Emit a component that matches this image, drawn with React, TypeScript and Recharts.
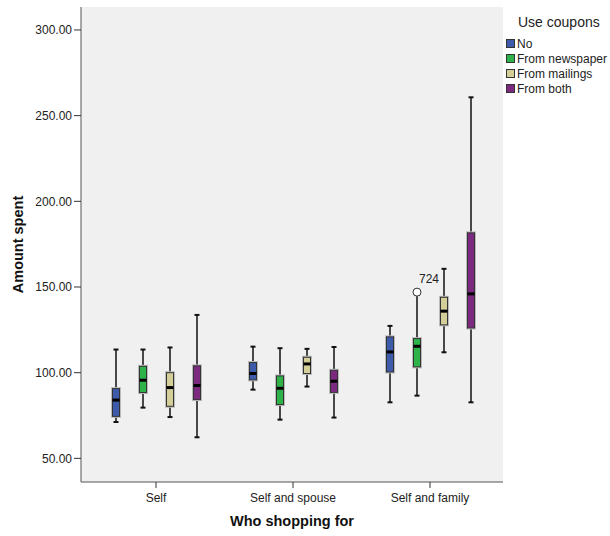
import { BarChart, Bar, XAxis, YAxis, CartesianGrid } from 'recharts'

if (typeof document !== 'undefined') document.body.style.margin = '0'

const categories = ['Self', 'Self and spouse', 'Self and family']
const couponGroups = ['No', 'From newspaper', 'From mailings', 'From both']
const groupColors = ['#3E5AAA', '#2EB34B', '#D4CF98', '#7C2A7F']

// [lower whisker, Q1, median, Q3, upper whisker] for each shopping category
const noCoupons = [
  [71.2, 74.5, 84.0, 90.7, 113.5],
  [90.1, 95.8, 99.5, 105.9, 115.2],
  [82.7, 100.4, 112.1, 120.9, 127.3],
]
const newspaper = [
  [79.6, 88.4, 95.6, 103.7, 113.5],
  [72.6, 81.4, 90.9, 98.1, 114.3],
  [86.6, 103.4, 115.4, 119.9, 145.5],
]
const mailings = [
  [74.1, 80.4, 91.3, 100.0, 114.7],
  [91.9, 99.5, 105.1, 109.0, 113.9],
  [111.9, 127.9, 135.9, 144.0, 160.6],
]
const both = [
  [62.3, 84.3, 92.5, 104.0, 133.7],
  [73.8, 88.5, 95.0, 101.4, 115.0],
  [82.7, 126.1, 146.0, 181.6, 260.7],
]
const outliers = [{ group: 1, category: 2, value: 147, label: '724' }]

const yTicks = [50, 100, 150, 200, 250, 300]

const allStats = [noCoupons, newspaper, mailings, both]

const data = categories.map((name, i) => ({
  name,
  stats: allStats.map((s) => s[i]),
  outliers: allStats.map((_, g) => outliers.filter((o) => o.group === g && o.category === i)),
}))

const font = 'Liberation Sans, Arial, sans-serif'

function BoxShape(props: any) {
  const { x, y, width, height, payload, group } = props
  const [lo, q1, med, q3, hi] = payload.stats[group]
  const top = Math.min(y, y + height)
  const bottom = Math.max(y, y + height)
  const pix = (v: number) => bottom - ((v - lo) / (hi - lo)) * (bottom - top)
  const cx = x + width / 2
  const outs = payload.outliers[group] as { value: number; label: string }[]
  return (
    <g>
      <line x1={cx} x2={cx} y1={pix(hi)} y2={pix(lo)} stroke="#111" strokeWidth={1.5} />
      <line x1={cx - 2.5} x2={cx + 2.5} y1={pix(hi)} y2={pix(hi)} stroke="#111" strokeWidth={2} />
      <line x1={cx - 2.5} x2={cx + 2.5} y1={pix(lo)} y2={pix(lo)} stroke="#111" strokeWidth={2} />
      <rect x={x} y={pix(q3)} width={width} height={pix(q1) - pix(q3)} fill="none" stroke="#bbb" strokeWidth={3} />
      <rect x={x} y={pix(q3)} width={width} height={pix(q1) - pix(q3)} fill={groupColors[group]} stroke="#333" strokeWidth={1} />
      <line x1={x} x2={x + width} y1={pix(med)} y2={pix(med)} stroke="#000" strokeWidth={3} />
      {outs.map((o) => (
        <g key={o.label}>
          <circle cx={cx} cy={pix(o.value)} r={4} fill="#fff" stroke="#333" strokeWidth={1} />
          <text x={cx + 12} y={pix(o.value) - 9} textAnchor="middle" fontSize={12} fill="#222" fontFamily={font}>
            {o.label}
          </text>
        </g>
      ))}
    </g>
  )
}

function YTitle({ viewBox }: any) {
  const cx = 18
  const cy = viewBox.y + viewBox.height / 2
  return (
    <text x={cx} y={cy} transform={`rotate(-90 ${cx} ${cy})`} textAnchor="middle" dominantBaseline="central"
      fontSize={14.5} fontWeight="bold" fill="#111" fontFamily={font}>
      Amount spent
    </text>
  )
}

function XTitle({ viewBox }: any) {
  const cx = viewBox.x + viewBox.width / 2
  return (
    <text x={cx} y={521} textAnchor="middle" dominantBaseline="central"
      fontSize={14.5} fontWeight="bold" fill="#111" fontFamily={font}>
      Who shopping for
    </text>
  )
}

export default function App() {
  return (
    <div style={{ position: 'relative', width: 610, height: 536, fontFamily: font, overflow: 'hidden' }}>
      <BarChart
        width={610}
        height={536}
        data={data}
        margin={{ top: 7, right: 107, bottom: 0, left: 0 }}
        barSize={7}
        barGap={20}
      >
        <CartesianGrid fill="#F0F0F0" horizontal={false} vertical={false} />
        <XAxis
          dataKey="name"
          height={54}
          padding={{ left: 6.5, right: 4.5 }}
          tick={{ fill: '#222', fontSize: 12, fontFamily: font }}
          tickSize={6}
          tickMargin={5}
          tickLine={{ stroke: '#333' }}
          axisLine={{ stroke: '#555' }}
          label={<XTitle />}
        />
        <XAxis xAxisId="top" dataKey="name" orientation="top" height={0} tick={false} tickLine={false} axisLine={{ stroke: '#555' }} />
        <YAxis
          width={81}
          domain={[36.2, 313.4]}
          ticks={yTicks}
          allowDataOverflow
          tickFormatter={(v: number) => v.toFixed(2)}
          tick={{ fill: '#222', fontSize: 12, fontFamily: font }}
          tickSize={7}
          tickMargin={2}
          tickLine={{ stroke: '#333' }}
          axisLine={{ stroke: '#555' }}
          label={<YTitle />}
        />
        <YAxis yAxisId="right" orientation="right" width={0} tick={false} tickLine={false} axisLine={{ stroke: '#555' }} />
        {couponGroups.map((g, k) => (
          <Bar
            key={g}
            name={g}
            dataKey={(d: any) => [d.stats[k][0], d.stats[k][4]]}
            fill={groupColors[k]}
            isAnimationActive={false}
            shape={(p: any) => <BoxShape {...p} group={k} />}
          />
        ))}
      </BarChart>
      <div style={{ position: 'absolute', left: 506, top: 10, whiteSpace: 'nowrap', color: '#222' }}>
        <div style={{ fontSize: 14, marginLeft: 12, lineHeight: '24px', height: 26 }}>Use coupons</div>
        {couponGroups.map((g, k) => (
          <div key={g} style={{ display: 'flex', alignItems: 'center', height: 15, fontSize: 12 }}>
            <span style={{ display: 'inline-block', width: 7, height: 7, background: groupColors[k], border: '1px solid #333', marginRight: 2 }} />
            {g}
          </div>
        ))}
      </div>
    </div>
  )
}
